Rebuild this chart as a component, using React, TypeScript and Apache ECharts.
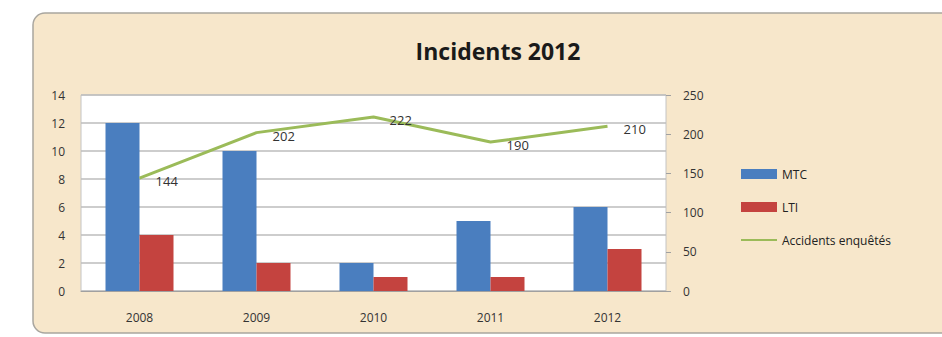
import React, { useEffect, useRef } from "react";
import * as echarts from "echarts";

const categories = ["2008", "2009", "2010", "2011", "2012"];
const mtc = [12, 10, 2, 5, 6];
const lti = [4, 2, 1, 1, 3];
const accidents = [144, 202, 222, 190, 210];

export default function App() {
  const ref = useRef<HTMLDivElement>(null);
  useEffect(() => {
    document.body.style.margin = "0";
    const chart = echarts.init(ref.current!, null, { renderer: "svg" });
    const font = "'Open Sans', 'Liberation Sans', sans-serif";
    chart.setOption({
      animation: false,
      backgroundColor: "#ffffff",
      textStyle: { fontFamily: font },
      graphic: [
        {
          type: "rect",
          z: -10,
          shape: { x: 33, y: 13, width: 1000, height: 320, r: 12 },
          style: { fill: "#f7e7cb", stroke: "#a9a69f", lineWidth: 1.5 },
        },
      ],
      title: {
        text: "Incidents 2012",
        left: 493,
        textAlign: "center",
        top: 34,
        textStyle: { fontSize: 23, fontWeight: "bold", color: "#1a1a1a", fontFamily: font },
      },
      legend: {
        orient: "vertical",
        left: 735,
        top: 163,
        itemGap: 21,
        itemWidth: 36,
        itemHeight: 10,
        textStyle: { fontSize: 12, color: "#222", fontFamily: font },
        data: [
          { name: "MTC", icon: "rect" },
          { name: "LTI", icon: "rect" },
          {
            name: "Accidents enquêtés",
            itemStyle: { opacity: 0 },
            lineStyle: { width: 2, color: "#9bbb59" },
          },
        ],
      },
      grid: {
        left: 81,
        right: 942 - 666,
        top: 95,
        bottom: 337 - 291,
        show: true,
        backgroundColor: "#ffffff",
        borderColor: "#c4c4c4",
        borderWidth: 1,
      },
      xAxis: {
        type: "category",
        data: categories,
        axisLine: { show: true, lineStyle: { color: "#a0a0a0" } },
        axisTick: { show: false },
        axisLabel: { margin: 20, fontSize: 12, color: "#333" },
      },
      yAxis: [
        {
          type: "value",
          min: 0,
          max: 14,
          interval: 2,
          axisLine: { show: false },
          axisTick: { show: false },
          axisLabel: { margin: 16, fontSize: 12, color: "#333" },
          splitLine: { lineStyle: { color: "#bcbcbc", width: 1.5 } },
        },
        {
          type: "value",
          min: 0,
          max: 250,
          interval: 50,
          position: "right",
          axisLine: { show: false },
          axisTick: { show: true, length: 5, lineStyle: { color: "#a0a0a0" } },
          axisLabel: { margin: 17, fontSize: 12, color: "#333" },
          splitLine: { show: false },
        },
      ],
      series: [
        {
          name: "MTC",
          type: "bar",
          data: mtc,
          barWidth: 34,
          barGap: "0%",
          itemStyle: { color: "#4a7ebf" },
        },
        {
          name: "LTI",
          type: "bar",
          data: lti,
          barWidth: 34,
          barGap: "0%",
          itemStyle: { color: "#c4433f" },
        },
        {
          name: "Accidents enquêtés",
          type: "line",
          yAxisIndex: 1,
          data: accidents,
          symbol: "circle",
          showSymbol: true,
          symbolSize: 0.1,
          lineStyle: { color: "#9bbb59", width: 3 },
          itemStyle: { color: "#9bbb59" },
          label: {
            show: true,
            position: "right",
            distance: 16,
            offset: [0, 3],
            fontSize: 13,
            color: "#333",
          },
        },
      ],
    });
    return () => chart.dispose();
  }, []);
  return <div ref={ref} style={{ width: 942, height: 337 }} />;
}
